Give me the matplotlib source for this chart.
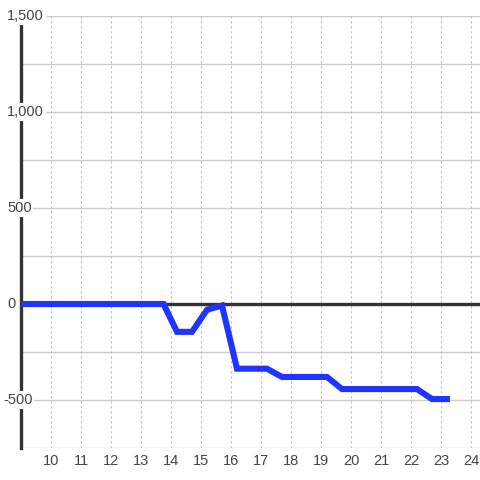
"""Recreate a single-series step-like line chart with a bold zero line."""

import matplotlib
matplotlib.use("Agg")
import matplotlib.pyplot as plt
import matplotlib.transforms as mtransforms
import numpy as np

# data
hours = [9.0, 13.75, 14.2, 14.7, 15.2, 15.7, 16.2, 17.2, 17.7, 19.2, 19.7, 22.2, 22.7, 23.2]
values = [0, 0, -145, -145, -30, -8, -337, -337, -380, -380, -443, -443, -495, -495]
x_ticks = list(range(10, 25))
y_ticks = [-500, 0, 500, 1000, 1500]
y_labels = ["-500", "0", "500", "1,000", "1,500"]

LINE_COLOR = "#1f35ff"
TEXT_COLOR = "#444444"
AXIS_COLOR = "#333333"
GRID_COLOR = "#cccccc"

plt.rcParams["font.family"] = ["Liberation Sans", "DejaVu Sans"]

fig = plt.figure(figsize=(4.8, 4.8), dpi=100)
fig.patch.set_facecolor("white")
ax = fig.add_axes([21 / 480, 32 / 480, 459 / 480, 432 / 480])
ax.set_facecolor("white")

ax.set_xlim(9, 24.3)
ax.set_ylim(-750, 1500)

# grid
for y in np.arange(-750, 1501, 250):
    if y == 0:
        continue
    ax.axhline(y, color=GRID_COLOR, lw=1, zorder=1)
for x in x_ticks:
    ax.axvline(x, color="#bbbbbb", lw=0.8, ls=(0, (2, 2.5)), zorder=1)

ax.axhline(0, color=AXIS_COLOR, lw=2.4, zorder=2)

for side in ["top", "right", "bottom"]:
    ax.spines[side].set_visible(False)
ax.spines["left"].set_color(AXIS_COLOR)
ax.spines["left"].set_linewidth(2.4)
ax.spines["left"].set_zorder(3)

ax.plot(hours, values, color=LINE_COLOR, lw=4.4, solid_joinstyle="miter",
        solid_capstyle="projecting", zorder=4)

ax.set_xticks(x_ticks)
ax.set_xticklabels([str(t) for t in x_ticks])
ax.tick_params(axis="x", length=0, pad=4, labelsize=10.5, labelcolor=TEXT_COLOR)
ax.set_yticks([])

# y labels sit over the axis with a white box
trans = mtransforms.blended_transform_factory(fig.transFigure, ax.transData)
for val, lab in zip(y_ticks, y_labels):
    x0 = 7 / 480 if val >= 0 else 3 / 480
    ax.text(x0, val, lab, transform=trans, ha="left", va="center",
            fontsize=10.5, color=TEXT_COLOR, zorder=5,
            bbox=dict(boxstyle="square,pad=0.12", fc="white", ec="none"))

fig.savefig("out.png", dpi=100, facecolor="white")
plt.close(fig)
